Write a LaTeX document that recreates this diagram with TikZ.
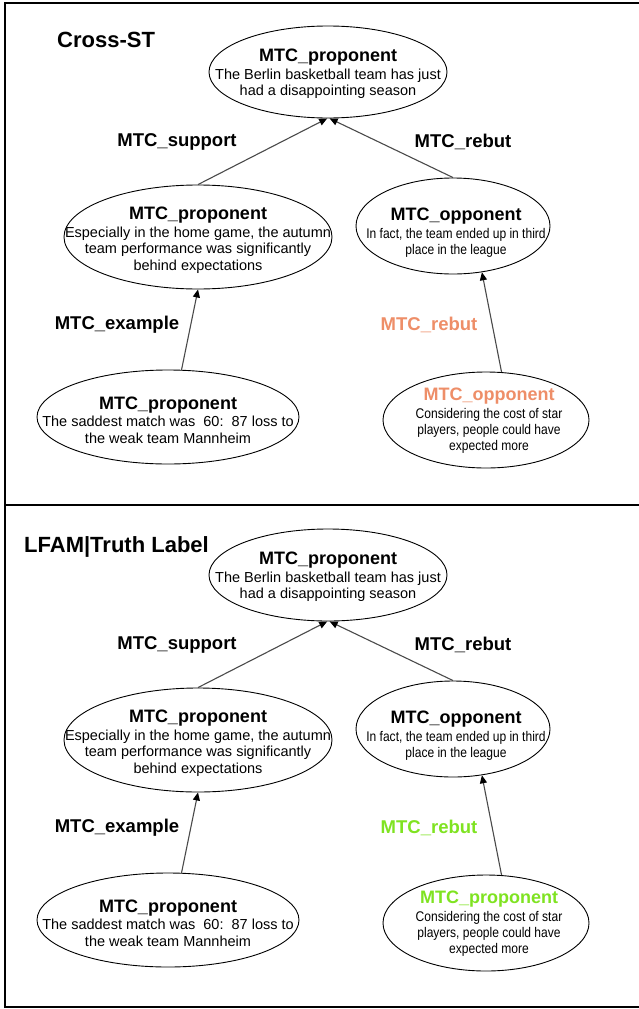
\documentclass[tikz,border=0pt]{standalone}
\usepackage{fontspec}
\setmainfont{Liberation Sans}
\newfontfamily\narrowfont{Liberation Sans}[FakeStretch=0.86]
\usetikzlibrary{arrows.meta,shapes.geometric}
\definecolor{orangelbl}{HTML}{EE8E68}
\definecolor{greenlbl}{HTML}{7FE321}
\definecolor{edgegray}{HTML}{4A4A4A}
\newcommand\hd[1]{{\fontsize{18}{20}\selectfont\bfseries #1}\\[1pt]}
\newcommand\hdb[1]{{\fontsize{18}{20}\selectfont\rmfamily\bfseries #1}\\[2pt]}
\tikzset{
  ell/.style={draw, ellipse, line width=0.9pt, inner sep=0pt},
  txt/.style={align=center, font=\fontsize{14.5}{16.5}\selectfont, inner sep=0pt},
  txts/.style={align=center, font=\narrowfont\fontsize{14}{16}\selectfont, inner sep=0pt},
  lbl/.style={font=\fontsize{18.5}{20}\selectfont\bfseries, inner sep=0pt},
  ttl/.style={font=\fontsize{22}{24}\selectfont\bfseries, anchor=west, inner sep=0pt},
  arr/.style={draw=edgegray, line width=1.1pt, -{Triangle[length=8pt,width=7pt,color=black]}},
  frame/.style={line width=1.3pt}
}
\newcommand\panel[7]{%
  % #1 prefix, #2 title, #3 color, #4 heading of e5, #5 y offset, #6 title x, #7 title y
  \begin{scope}[yshift=-#5pt]
  \node[ttl] (#1title) at (#6,#7) {#2};
  \node[ell, minimum width=238pt, minimum height=92pt] (#1e1) at (328,72) {};
  \node[txt] (#1t1) at (328,74) {\hd{MTC\_proponent}The Berlin basketball team has just\\had a disappointing season};
  \node[ell, minimum width=268pt, minimum height=104pt] (#1e2) at (198,237) {};
  \node[txt] (#1t2) at (198,240) {\hd{MTC\_proponent}Especially in the home game, the autumn\\team performance was significantly\\behind expectations};
  \node[ell, minimum width=194pt, minimum height=96pt] (#1e3) at (453,226) {};
  \node[txts] (#1t3) at (456,233) {\hdb{MTC\_opponent}In fact, the team ended up in third\\place in the league};
  \node[ell, minimum width=262pt, minimum height=94pt] (#1e4) at (168,417) {};
  \node[txt] (#1t4) at (168,420) {\hd{MTC\_proponent}The saddest match was\ \ 60:\ \ 87 loss to\\the weak team Mannheim};
  \node[ell, minimum width=206pt, minimum height=96pt] (#1e5) at (486,420) {};
  \node[txts] (#1t5) at (489,421) {\hdb{\color{#3}#4}Considering the cost of star\\players, people could have\\expected more};
  \node[lbl] (#1l1) at (177,142) {MTC\_support};
  \node[lbl] (#1l2) at (463,142) {MTC\_rebut};
  \node[lbl] (#1l3) at (117,325) {MTC\_example};
  \node[lbl, text=#3] (#1l4) at (429,325) {MTC\_rebut};
  \draw[arr] (#1e2.north) -- (#1e1.-91.5);
  \draw[arr] (#1e3.north) -- (#1e1.-88);
  \draw[arr] (#1e4.74) -- (#1e2.south);
  \draw[arr] (#1e5.72) -- (#1e3.-58);
  \end{scope}}
\begin{document}
\begin{tikzpicture}[x=1pt,y=-1pt]
\useasboundingbox (0,0) rectangle (639,1009);
\fill[white] (0,0) rectangle (639,1009);
\draw[frame] (5,505) -- (5,3) -- (645,3);
\draw[frame] (5,505) -- (645,505);
\draw[frame] (5,505) -- (5,1007) -- (645,1007);
\panel{a}{Cross-ST}{orangelbl}{MTC\_opponent}{0}{57}{40}
\panel{b}{LFAM|Truth Label}{greenlbl}{MTC\_proponent}{503}{24}{44}
\end{tikzpicture}
\end{document}
